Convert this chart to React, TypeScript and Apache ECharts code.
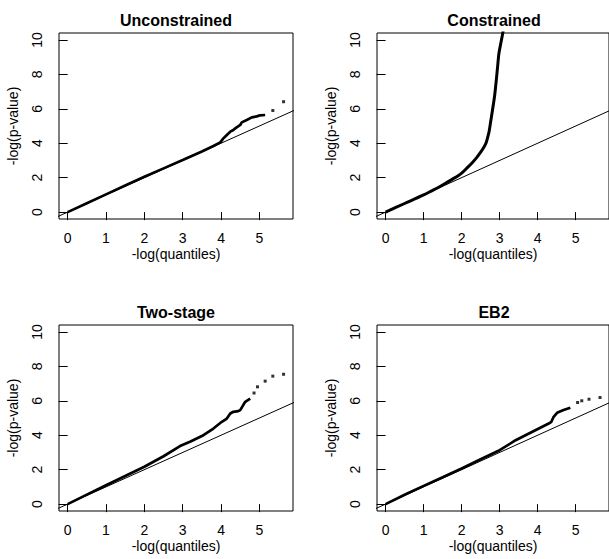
import React, { useEffect, useRef } from "react";
import * as echarts from "echarts";

const titles = ["Unconstrained", "Constrained", "Two-stage", "EB2"];
const xTicks = [0, 1, 2, 3, 4, 5];
const yTicks = [0, 2, 4, 6, 8, 10];
const xName = "-log(quantiles)";
const yName = "-log(p-value)";

// reference line y = x (abline)
const refLine: [number, number][] = [[-1, -1], [7, 7]];

const unconstrainedDense: [number, number][] = [
  [0, 0], [0.5, 0.52], [1, 1.03], [1.5, 1.54], [2, 2.05], [2.5, 2.54], [3, 3.02],
  [3.5, 3.52], [3.8, 3.84], [3.98, 4.05], [4.06, 4.28], [4.15, 4.48], [4.24, 4.67],
  [4.32, 4.77], [4.37, 4.86], [4.5, 5.06], [4.54, 5.21], [4.67, 5.35], [4.8, 5.5],
  [4.93, 5.56], [5.02, 5.62], [5.15, 5.64],
];
const unconstrainedTail: [number, number][] = [[5.35, 5.9], [5.63, 6.41]];

const constrainedDense: [number, number][] = [
  [0, 0], [0.5, 0.5], [1, 1.0], [1.2, 1.22], [1.42, 1.47], [1.6, 1.7], [1.77, 1.93],
  [1.9, 2.1], [2.03, 2.32], [2.15, 2.58], [2.29, 2.9], [2.4, 3.18], [2.51, 3.51],
  [2.58, 3.75], [2.64, 4.0], [2.68, 4.3], [2.72, 4.65], [2.76, 5.2], [2.81, 5.9],
  [2.87, 6.8], [2.94, 8.3], [2.98, 9.2], [3.03, 9.8], [3.07, 10.25], [3.12, 10.9],
];
const constrainedTail: [number, number][] = [];

const twoStageDense: [number, number][] = [
  [0, 0], [0.5, 0.55], [1, 1.1], [1.5, 1.63], [2, 2.17], [2.5, 2.78], [2.93, 3.37],
  [3.19, 3.62], [3.54, 4.0], [3.8, 4.39], [4.02, 4.78], [4.15, 4.97], [4.24, 5.26],
  [4.32, 5.36], [4.45, 5.4], [4.5, 5.46], [4.63, 5.94], [4.76, 6.13],
];
const twoStageTail: [number, number][] = [
  [4.86, 6.45], [4.95, 6.81], [5.15, 7.14], [5.35, 7.43], [5.63, 7.54],
];

const eb2Dense: [number, number][] = [
  [0, 0], [0.5, 0.54], [1, 1.06], [1.5, 1.56], [2, 2.07], [2.5, 2.6], [3, 3.13],
  [3.42, 3.71], [3.77, 4.1], [4.03, 4.39], [4.29, 4.68], [4.36, 4.78], [4.42, 5.07],
  [4.51, 5.3], [4.68, 5.46], [4.86, 5.6],
];
const eb2Tail: [number, number][] = [[5.05, 5.9], [5.16, 6.0], [5.35, 6.09], [5.64, 6.19]];

const denseSets = [unconstrainedDense, constrainedDense, twoStageDense, eb2Dense];
const tailSets = [unconstrainedTail, constrainedTail, twoStageTail, eb2Tail];

const FONT = "'Liberation Sans', Arial, Helvetica, sans-serif";

export default function App() {
  const ref = useRef<HTMLDivElement>(null);
  useEffect(() => {
    if (!ref.current) return;
    const chart = echarts.init(ref.current, undefined, { renderer: "svg" });
    const lefts = [59, 377, 59, 377];
    const tops = [33, 33, 325, 325];
    const W = 234;
    const H = 186;
    const grids = lefts.map((l, i) => ({
      left: l,
      top: tops[i],
      width: W,
      height: H,
      show: true,
      borderColor: "#000",
      borderWidth: 1,
      backgroundColor: "transparent",
      containLabel: false,
    }));
    const xAxes = lefts.map((_, i) => ({
      type: "value",
      gridIndex: i,
      min: -0.226,
      max: 5.876,
      name: xName,
      nameLocation: "middle",
      nameGap: 28,
      nameTextStyle: { color: "#000", fontSize: 14, fontFamily: FONT },
      axisLine: { show: false },
      axisTick: { show: true, customValues: xTicks, length: 8, lineStyle: { color: "#000", width: 1 } },
      axisLabel: { show: true, customValues: xTicks, margin: 12, color: "#000", fontSize: 14, fontFamily: FONT },
      splitLine: { show: false },
    }));
    const yAxes = lefts.map((_, i) => ({
      type: "value",
      gridIndex: i,
      min: -0.4,
      max: 10.4,
      name: yName,
      nameLocation: "middle",
      nameGap: 39,
      nameTextStyle: { color: "#000", fontSize: 14, fontFamily: FONT },
      axisLine: { show: false },
      axisTick: { show: true, customValues: yTicks, length: 9, lineStyle: { color: "#000", width: 1 } },
      axisLabel: { show: true, customValues: yTicks, rotate: 90, margin: 15, color: "#000", fontSize: 14, fontFamily: FONT },
      splitLine: { show: false },
    }));
    const series: any[] = [];
    for (let i = 0; i < 4; i++) {
      series.push({
        type: "line",
        xAxisIndex: i,
        yAxisIndex: i,
        data: refLine,
        showSymbol: false,
        clip: true,
        lineStyle: { color: "#000", width: 1 },
        silent: true,
      });
      series.push({
        type: "line",
        xAxisIndex: i,
        yAxisIndex: i,
        data: denseSets[i],
        showSymbol: false,
        clip: true,
        smooth: i === 1 ? 0.3 : false,
        lineStyle: { color: "#000", width: i === 1 ? 3 : 2.7 },
        silent: true,
      });
      series.push({
        type: "scatter",
        xAxisIndex: i,
        yAxisIndex: i,
        data: tailSets[i],
        symbol: "rect",
        symbolSize: 3,
        itemStyle: { color: "#000" },
        silent: true,
      });
    }
    const graphic = titles.map((t, i) => ({
      type: "text",
      x: lefts[i] + W / 2,
      y: tops[i] - 13,
      style: {
        text: t,
        font: `bold 16px ${FONT}`,
        fill: "#000",
        textAlign: "center",
        textVerticalAlign: "middle",
        align: "center",
        verticalAlign: "middle",
      },
    }));
    chart.setOption({
      animation: false,
      backgroundColor: "#fff",
      grid: grids,
      xAxis: xAxes,
      yAxis: yAxes,
      series,
      graphic,
    });
    return () => chart.dispose();
  }, []);
  return (
    <div
      ref={ref}
      style={{ position: "absolute", left: 0, top: 0, width: 609, height: 559 }}
    />
  );
}
